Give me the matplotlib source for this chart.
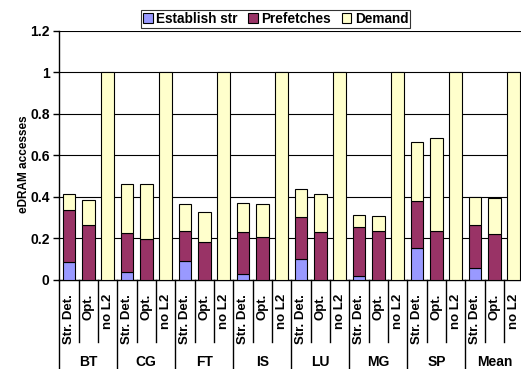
import matplotlib
matplotlib.use("Agg")
import matplotlib.pyplot as plt
from matplotlib.patches import Patch
import numpy as np

plt.rcParams['font.family'] = ['Liberation Sans', 'DejaVu Sans']
plt.rcParams['font.weight'] = 'bold'

# benchmarks and the three configurations per benchmark
benchmarks = ['BT', 'CG', 'FT', 'IS', 'LU', 'MG', 'SP', 'Mean']
configs = ['Str. Det.', 'Opt.', 'no L2']

# normalized eDRAM accesses, split by source
establish_str = [0.085, 0.040, 0.090, 0.027, 0.099, 0.021, 0.154, 0.059]
prefetch_str = [0.251, 0.186, 0.145, 0.202, 0.205, 0.232, 0.229, 0.204]
demand_str = [0.080, 0.238, 0.133, 0.142, 0.134, 0.061, 0.284, 0.135]

prefetch_opt = [0.267, 0.197, 0.181, 0.205, 0.229, 0.238, 0.238, 0.221]
demand_opt = [0.118, 0.267, 0.149, 0.160, 0.187, 0.072, 0.447, 0.173]

demand_nol2 = [1.0, 1.0, 1.0, 1.0, 1.0, 1.0, 1.0, 1.0]

c_est = '#9999FF'
c_pre = '#993366'
c_dem = '#FFFFCC'

fig = plt.figure(figsize=(5.21, 3.69), dpi=100)
ax = fig.add_axes([0.1138, 0.2412, 0.8907, 0.6748])

n = len(benchmarks)
base = np.arange(n) * 3
w = 0.66
kw = dict(width=w, edgecolor='black', linewidth=0.8, zorder=3)

# Str. Det. bars
x0 = base + 0
est = np.array(establish_str)
pre = np.array(prefetch_str)
ax.bar(x0, est, color=c_est, **kw)
ax.bar(x0, pre, bottom=est, color=c_pre, **kw)
ax.bar(x0, demand_str, bottom=est + pre, color=c_dem, **kw)

# Opt. bars
x1 = base + 1
ax.bar(x1, prefetch_opt, color=c_pre, **kw)
ax.bar(x1, demand_opt, bottom=prefetch_opt, color=c_dem, **kw)

# no L2 bars
x2 = base + 2
ax.bar(x2, demand_nol2, color=c_dem, **kw)

ax.set_xlim(-0.5, 3 * n - 0.5)
ax.set_ylim(0, 1.2)
ax.set_yticks([0, 0.2, 0.4, 0.6, 0.8, 1.0, 1.2])
ax.set_yticklabels(['0', '0.2', '0.4', '0.6', '0.8', '1', '1.2'], fontsize=10)
ax.yaxis.grid(True, color='black', linewidth=0.8, zorder=0)
ax.set_axisbelow(True)
for s in ['top', 'right']:
    ax.spines[s].set_visible(False)
ax.spines['left'].set_linewidth(1)
ax.spines['bottom'].set_linewidth(1)
ax.tick_params(axis='y', length=4, width=1, pad=3)

ax.set_ylabel('eDRAM accesses', fontsize=8.5, fontweight='bold')
ax.yaxis.set_label_coords(-0.064, 0.466)

# configuration labels, rotated
ticks = np.arange(3 * n)
ax.set_xticks(ticks)
ax.set_xticklabels(configs * n, rotation=90, fontsize=9.5)
ax.tick_params(axis='x', length=0, pad=10)

# separators below the axis
tr = ax.get_xaxis_transform()
for k in range(3 * n + 1):
    xs = k - 0.5
    bottom = -0.36 if k % 3 == 0 else -0.248
    ax.plot([xs, xs], [0, bottom], color='black', linewidth=1,
            transform=tr, clip_on=False)

# benchmark names
for g, name in enumerate(benchmarks):
    ax.text(base[g] + 1, -0.33, name, transform=tr, ha='center', va='center',
            fontsize=10, fontweight='bold')

handles = [Patch(facecolor=c_est, edgecolor='black', linewidth=0.8),
           Patch(facecolor=c_pre, edgecolor='black', linewidth=0.8),
           Patch(facecolor=c_dem, edgecolor='black', linewidth=0.8)]
leg = fig.legend(handles, ['Establish str', 'Prefetches', 'Demand'],
                 loc='center', bbox_to_anchor=(0.529, 0.9485), ncol=3,
                 fontsize=9.8, frameon=True, fancybox=False, edgecolor='black',
                 handlelength=0.7, handleheight=0.7, handletextpad=0.25,
                 columnspacing=0.8, borderpad=0.15, borderaxespad=0)
leg.get_frame().set_linewidth(0.8)

fig.savefig('out.png', dpi=100)
